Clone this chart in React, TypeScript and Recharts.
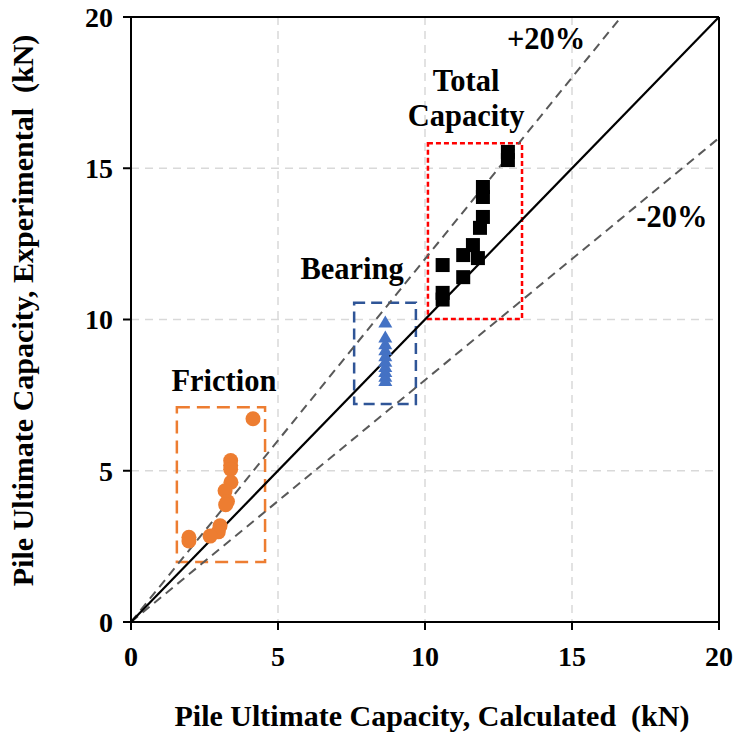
import React from 'react';
import {
  ScatterChart, Scatter, XAxis, YAxis, CartesianGrid, ReferenceLine, ReferenceArea, ReferenceDot,
} from 'recharts';

const axisTicks = [0, 5, 10, 15, 20];

const frictionX = [4.15, 3.39, 3.39, 3.39, 3.4, 3.2, 3.28, 3.22, 3.03, 2.97, 2.69, 1.97, 1.97];
const frictionY = [6.72, 5.34, 5.18, 5.05, 4.62, 4.34, 3.98, 3.88, 3.18, 2.98, 2.84, 2.8, 2.68];

const bearingX = [8.65, 8.65, 8.65, 8.65, 8.65, 8.65, 8.65, 8.65, 8.65, 8.65];
const bearingY = [9.92, 9.42, 9.2, 9.0, 8.8, 8.62, 8.45, 8.28, 8.12, 7.98];

const totalX = [12.82, 12.82, 11.97, 11.97, 11.97, 11.87, 11.63, 11.3, 11.8, 10.6, 11.3, 10.6, 10.6];
const totalY = [15.54, 15.27, 14.38, 14.05, 13.39, 13.03, 12.46, 12.13, 12.03, 11.8, 11.4, 10.88, 10.66];

const zip = (xs: number[], ys: number[]) => xs.map((x, i) => ({ x, y: ys[i] }));
const frictionData = zip(frictionX, frictionY);
const bearingData = zip(bearingX, bearingY);
const totalData = zip(totalX, totalY);

const FONT = "'Liberation Serif', 'Times New Roman', serif";
const FS = 28;

const annotations = [
  { x: 14.12, y: 19.3, text: '+20%' },
  { x: 18.4, y: 13.4, text: '-20%' },
  { x: 11.4, y: 17.9, text: 'Total' },
  { x: 11.4, y: 16.76, text: 'Capacity' },
  { x: 7.52, y: 11.68, text: 'Bearing' },
  { x: 3.16, y: 8.0, text: 'Friction' },
];

const Circle = (p: any) => <circle cx={p.cx} cy={p.cy} r={7.5} fill="#ED7D31" />;
const Tri = (p: any) => (
  <polygon
    points={`${p.cx},${p.cy - 6.5} ${p.cx + 7},${p.cy + 5.5} ${p.cx - 7},${p.cy + 5.5}`}
    fill="#4472C4"
  />
);
const Sq = (p: any) => <rect x={p.cx - 7} y={p.cy - 7} width={14} height={14} fill="#000" />;

const cssText = { fontFamily: FONT, fontWeight: 700, fontSize: FS };
const titleText = { fontFamily: FONT, fontWeight: 700, fontSize: 30 };
const annText = { fontFamily: FONT, fontWeight: 700, fontSize: 30.5 };
const tickStyle = { fill: '#000', fontSize: FS, fontWeight: 700, fontFamily: FONT, style: cssText };

export default function App() {
  return (
    <div style={{ position: 'absolute', left: 0, top: 0, width: 739, height: 736, background: '#fff', fontFamily: FONT }}>
      <ScatterChart width={739} height={736} margin={{ top: 17, right: 20, bottom: 0, left: 0 }} style={{ fontFamily: FONT }}>
        <CartesianGrid stroke="#D9D9D9" strokeDasharray="8 6" strokeWidth={1.5} />
        <XAxis
          type="number"
          dataKey="x"
          domain={[0, 20]}
          ticks={axisTicks}
          height={114}
          tickSize={8}
          tickMargin={16}
          axisLine={{ stroke: '#000', strokeWidth: 2 }}
          tickLine={{ stroke: '#000', strokeWidth: 2 }}
          tick={tickStyle}
          allowDataOverflow
          label={{
            content: (props: any) => {
              const vb = props.viewBox || { x: 131, width: 588 };
              return (
                <text x={vb.x + vb.width / 2 + 7} y={726} textAnchor="middle" fill="#000" style={{ ...titleText, whiteSpace: 'pre' }}>
                  {'Pile Ultimate Capacity, Calculated  (kN)'}
                </text>
              );
            },
          }}
        />
        <YAxis
          type="number"
          dataKey="y"
          domain={[0, 20]}
          ticks={axisTicks}
          width={131}
          tickSize={8}
          tickMargin={10}
          axisLine={{ stroke: '#000', strokeWidth: 2 }}
          tickLine={{ stroke: '#000', strokeWidth: 2 }}
          tick={tickStyle}
          allowDataOverflow
          label={{
            content: (props: any) => {
              const vb = props.viewBox || { y: 17, height: 605 };
              const cy = vb.y + vb.height / 2 - 9;
              return (
                <text x={33} y={cy} textAnchor="middle" fill="#000" transform={`rotate(-90, 33, ${cy})`} style={{ ...titleText, whiteSpace: 'pre' }}>
                  {'Pile Ultimate Capacity, Experimental  (kN)'}
                </text>
              );
            },
          }}
        />
        <ReferenceLine y={20} stroke="#000" strokeWidth={2} />
        <ReferenceLine x={20} stroke="#000" strokeWidth={2} />
        <ReferenceLine segment={[{ x: 0, y: 0 }, { x: 50 / 3, y: 20 }]} stroke="#595959" strokeWidth={2} strokeDasharray="9 6" />
        <ReferenceLine segment={[{ x: 0, y: 0 }, { x: 20, y: 16 }]} stroke="#595959" strokeWidth={2} strokeDasharray="9 6" />
        <ReferenceLine segment={[{ x: 0, y: 0 }, { x: 20, y: 20 }]} stroke="#000" strokeWidth={2.2} />
        <ReferenceArea x1={1.56} x2={4.56} y1={1.98} y2={7.1} fill="none" fillOpacity={0} stroke="#ED7D31" strokeWidth={2.5} strokeDasharray="13 7" />
        <ReferenceArea x1={7.59} x2={9.69} y1={7.21} y2={10.55} fill="none" fillOpacity={0} stroke="#2F5597" strokeWidth={2.5} strokeDasharray="11 6" />
        <ReferenceArea x1={10.1} x2={13.3} y1={10.02} y2={15.83} fill="none" fillOpacity={0} stroke="#FF0000" strokeWidth={2.5} strokeDasharray="5 3" />
        <Scatter data={frictionData} shape={Circle} isAnimationActive={false} />
        <Scatter data={bearingData} shape={Tri} isAnimationActive={false} />
        <Scatter data={totalData} shape={Sq} isAnimationActive={false} />
        {annotations.map((a, i) => (
          <ReferenceDot
            key={i}
            x={a.x}
            y={a.y}
            r={0}
            fill="none"
            stroke="none"
            label={{
              content: (props: any) => {
                const vb = props.viewBox || {};
                const cx = vb.x + (vb.width || 0) / 2;
                const cy = vb.y + (vb.height || 0) / 2;
                return (
                  <text x={cx} y={cy} dy="0.35em" textAnchor="middle" fill="#000" style={annText}>
                    {a.text}
                  </text>
                );
              },
            }}
          />
        ))}
      </ScatterChart>
    </div>
  );
}
